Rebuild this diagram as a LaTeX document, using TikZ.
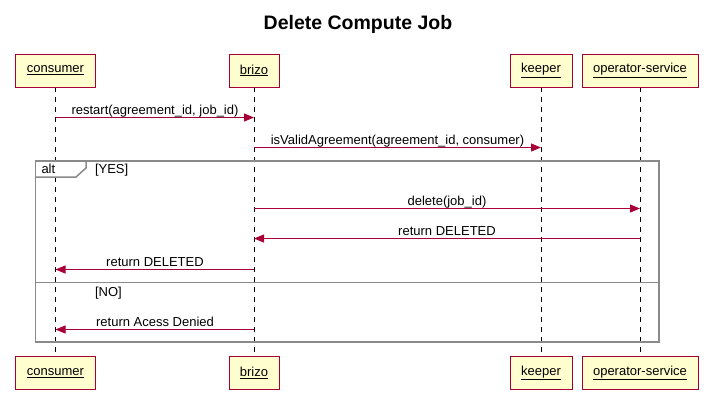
\documentclass[tikz,border=0pt]{standalone}
\usepackage{fontspec}
\setmainfont{Liberation Sans}
\usetikzlibrary{arrows.meta}
\definecolor{umlred}{HTML}{A80036}
\definecolor{umlfill}{HTML}{FEFECE}
\definecolor{framegray}{HTML}{8A8A8A}
\tikzset{
  x=1bp, y=-1bp,
  every node/.style={inner sep=0pt, outer sep=0pt},
  participant/.style={draw=umlred, fill=umlfill, line width=1bp, minimum height=33bp, anchor=north, font=\fontsize{13bp}{15bp}\selectfont},
  lifeline/.style={draw=black, line width=1bp, dash pattern=on 5bp off 5bp},
  msg/.style={draw=umlred, line width=1bp, -{Triangle[length=10bp, width=8bp]}},
  msglabel/.style={anchor=base, font=\fontsize{13bp}{15bp}\selectfont},
  grp/.style={draw=framegray, line width=1.5bp},
  grptext/.style={anchor=base west, font=\fontsize{13bp}{15bp}\selectfont},
}
\newcommand{\ul}[1]{\underline{#1}}
\begin{document}
\begin{tikzpicture}
\useasboundingbox (0,0) rectangle (712,413);
\node[anchor=base, font=\bfseries\fontsize{19.5bp}{22bp}\selectfont] (title) at (358,29.5) {Delete Compute Job};

% lifeline coordinates
\coordinate (cT) at (55.5,87);  \coordinate (cB) at (55.5,357);
\coordinate (bT) at (254,87);   \coordinate (bB) at (254,357);
\coordinate (kT) at (541,87);   \coordinate (kB) at (541,357);
\coordinate (oT) at (640,87);   \coordinate (oB) at (640,357);
\draw[lifeline] (cT) -- (cB);
\draw[lifeline] (bT) -- (bB);
\draw[lifeline] (kT) -- (kB);
\draw[lifeline] (oT) -- (oB);

% participants
\node[participant, minimum width=80bp] (c1) at (55.5,54) {\ul{consumer}};
\node[participant, minimum width=50bp] (b1) at (254,54) {\ul{brizo}};
\node[participant, minimum width=62bp] (k1) at (541,54) {\ul{keeper}};
\node[participant, minimum width=116bp] (o1) at (640,54) {\ul{operator-service}};
\node[participant, minimum width=80bp] (c2) at (55.5,356.5) {\ul{consumer}};
\node[participant, minimum width=50bp] (b2) at (254,356.5) {\ul{brizo}};
\node[participant, minimum width=62bp] (k2) at (541,356.5) {\ul{keeper}};
\node[participant, minimum width=116bp] (o2) at (640,356.5) {\ul{operator-service}};

% alt frame
\coordinate (fTL) at (35.5,161);
\coordinate (fBR) at (659,342);
\fill[white] (35.5,161) -- (86,161) -- (86,168) -- (76,177) -- (35.5,177) -- cycle;
\draw[grp] (fTL) rectangle (fBR);
\draw[grp] (35.5,177) -- (76,177) -- (86,168) -- (86,161);
\node[grptext] (alt) at (41.5,173) {alt};
\node[grptext] (yes) at (95,173) {[YES]};
\draw[draw=framegray, line width=1bp] (35.5,282.5) -- (659,282.5);
\node[grptext] (no) at (95,296) {[NO]};

% messages
\coordinate (m1a) at (55.5,117.5); \coordinate (m1b) at (254,117.5);
\draw[msg] (m1a) -- (m1b);
\node[msglabel] (l1) at (155,114.5) {restart(agreement\_id, job\_id)};

\coordinate (m2a) at (254,147.5); \coordinate (m2b) at (541,147.5);
\draw[msg] (m2a) -- (m2b);
\node[msglabel] (l2) at (397.5,144.5) {isValidAgreement(agreement\_id, consumer)};

\coordinate (m3a) at (254,208.5); \coordinate (m3b) at (640,208.5);
\draw[msg] (m3a) -- (m3b);
\node[msglabel] (l3) at (447,205.5) {delete(job\_id)};

\coordinate (m4a) at (640,238.5); \coordinate (m4b) at (254,238.5);
\draw[msg] (m4a) -- (m4b);
\node[msglabel] (l4) at (447,235.5) {return DELETED};

\coordinate (m5a) at (254,269.5); \coordinate (m5b) at (55.5,269.5);
\draw[msg] (m5a) -- (m5b);
\node[msglabel] (l5) at (155,266.5) {return DELETED};

\coordinate (m6a) at (254,329.5); \coordinate (m6b) at (55.5,329.5);
\draw[msg] (m6a) -- (m6b);
\node[msglabel] (l6) at (155,326.5) {return Acess Denied};
\end{tikzpicture}
\end{document}
